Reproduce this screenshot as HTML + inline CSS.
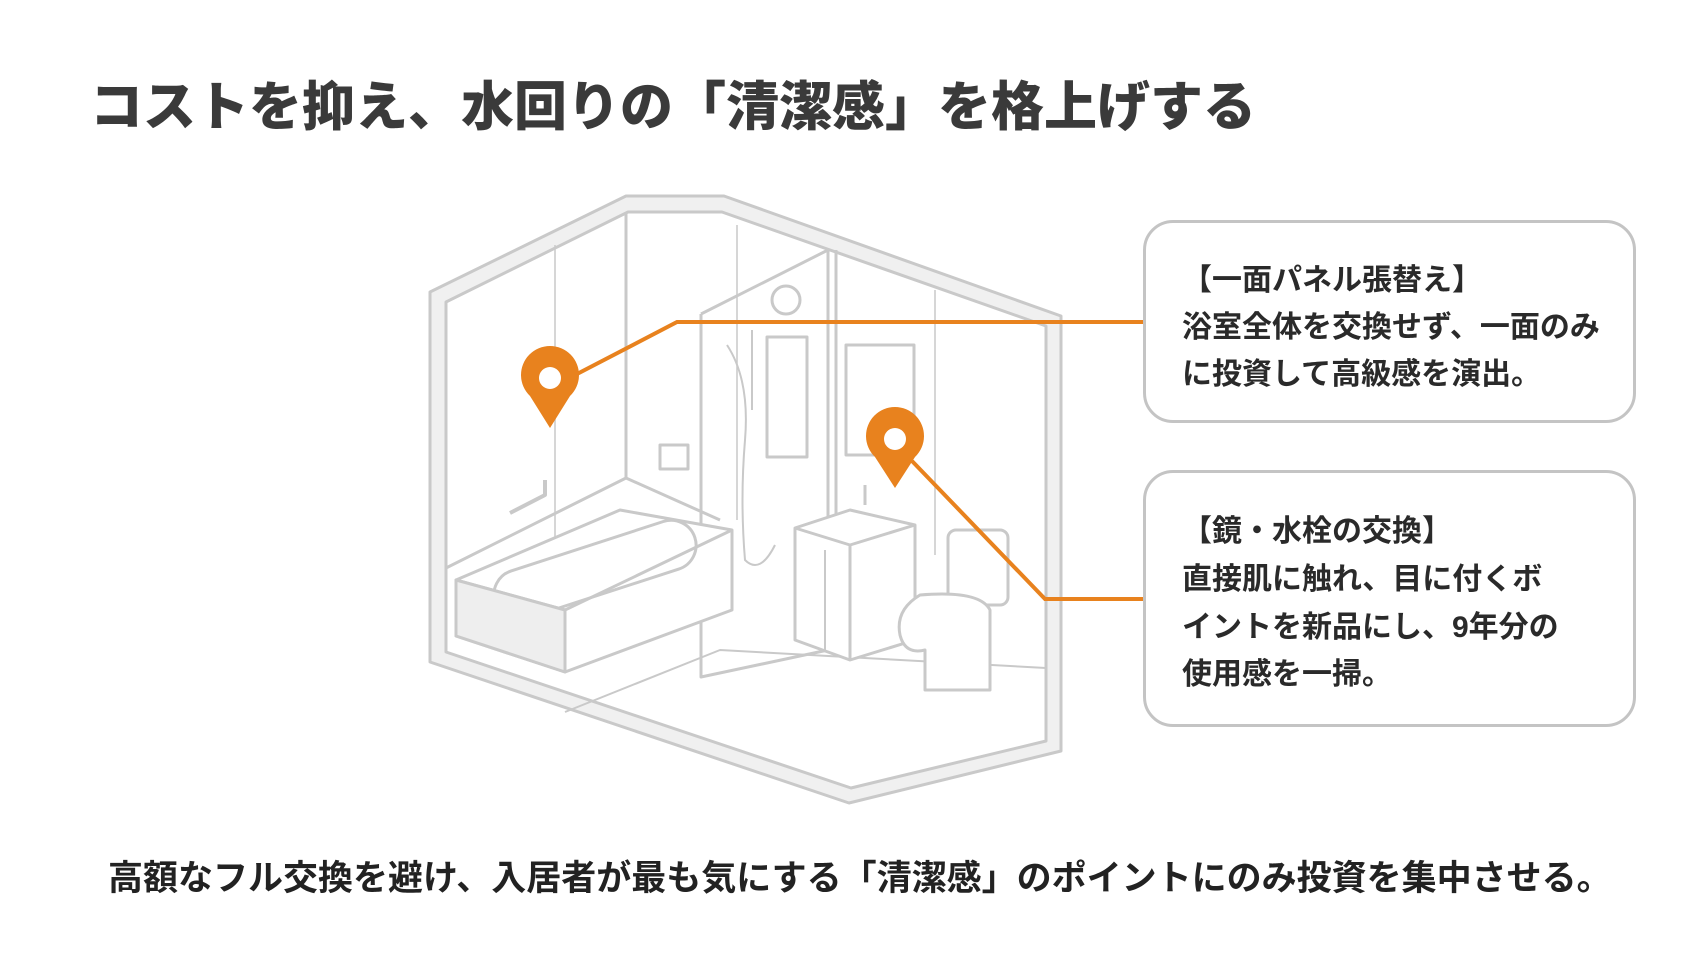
<!DOCTYPE html>
<html><head><meta charset="utf-8"><style>
html,body{margin:0;padding:0;background:#fff;}
body{width:1707px;height:960px;overflow:hidden;position:relative;font-family:"Liberation Sans","Noto Sans CJK JP",sans-serif;}
.t{position:absolute;left:90px;top:76px;font-size:53px;font-weight:900;color:#3a3a3a;white-space:nowrap;line-height:1.2;}
.box{position:absolute;border:3px solid #c4c4c4;border-radius:30px;background:#fff;box-sizing:border-box;}
.box div{position:absolute;left:36px;font-size:30px;font-weight:bold;color:#2a2a2a;white-space:nowrap;line-height:1;}
.b{position:absolute;left:108px;top:850px;font-size:35px;font-weight:bold;color:#222;white-space:nowrap;}
</style></head><body>
<svg width="1707" height="960" style="position:absolute;left:0;top:0">
<g fill="none" stroke="#c9c9c9" stroke-width="3" stroke-linejoin="round">
<path d="M430,292 L626,196 L724,196 L1061,316 L1061,751 L849,803 L430,662 Z M446,302 L446,652 L851,788 L1046,741 L1046,326 L722,212 L628,212 Z" fill="#f0f0f0" fill-rule="evenodd"/>
<line x1="626" y1="212" x2="626" y2="478"/>
<line x1="555" y1="245" x2="555" y2="560" stroke-width="1.5"/>
<line x1="737" y1="225" x2="737" y2="520" stroke-width="1.5"/>
<line x1="935" y1="290" x2="935" y2="555" stroke-width="1.5"/>
<polyline points="446,568 626,478 720,520"/>
<polyline points="565,712 720,650 1046,668" stroke-width="2"/>
<polyline points="701,314 828,250 828,650" />
<polyline points="701,314 701,677 828,650" />
<line x1="836" y1="250" x2="836" y2="650"/>
<polygon points="456,580 620,510 732,530 732,610 565,672 456,636" fill="#fff"/>
<polyline points="456,580 565,610 732,530"/>
<line x1="565" y1="610" x2="565" y2="672"/>
<rect x="490" y="545" width="210" height="50" rx="25" transform="rotate(-18 595 570)"/>
<polygon points="456,580 565,610 565,672 456,636" fill="#eee"/>
<polyline points="510,513 545,495 545,480" stroke-width="4"/>
<rect x="660" y="445" width="28" height="24"/>
<circle cx="786" cy="300" r="14"/>
<line x1="752" y1="330" x2="752" y2="410" stroke-width="2"/>
<path d="M727,345 Q750,380 745,440 Q740,500 745,560 Q760,575 775,545" stroke-width="2"/>
<rect x="767" y="337" width="40" height="120"/>
<rect x="846" y="345" width="68" height="110"/>
<polygon points="795,528 850,510 915,525 915,640 850,660 795,640" fill="#fff"/>
<polyline points="795,528 850,545 915,525"/>
<line x1="850" y1="545" x2="850" y2="660"/>
<line x1="825" y1="550" x2="825" y2="650" stroke-width="2"/>
<line x1="865" y1="505" x2="865" y2="485" stroke-width="3"/>
<rect x="948" y="530" width="60" height="75" rx="8" fill="#fff"/>
<path d="M920,595 Q895,610 900,635 Q905,655 925,650 L925,690 L990,690 L990,610 Q980,590 920,595Z" fill="#fff"/>
</g>
<g stroke="#e8821e" stroke-width="4" fill="none">
<polyline points="577,374 677,322 1145,322"/>
<polyline points="912,461 1045,599 1145,599"/>
</g>
<g fill="#e8821e">
<path d="M550,428 L530,396 A29,29 0 1 1 570,396 Z"/>
<path d="M895,488 L875,457 A29,29 0 1 1 915,457 Z"/>
</g>
<circle cx="550" cy="378" r="11" fill="#fff"/>
<circle cx="895" cy="439" r="11" fill="#fff"/>
</svg>
<div class="t">コストを抑え、水回りの「清潔感」を格上げする</div>
<div class="box" style="left:1143px;top:220px;width:493px;height:203px;">
<div style="top:43px">【一面パネル張替え】</div>
<div style="top:90px">浴室全体を交換せず、一面のみ</div>
<div style="top:137px">に投資して高級感を演出。</div>
</div>
<div class="box" style="left:1143px;top:470px;width:493px;height:257px;">
<div style="top:44px">【鏡・水栓の交換】</div>
<div style="top:92px">直接肌に触れ、目に付くボ</div>
<div style="top:140px">イントを新品にし、9年分の</div>
<div style="top:187px">使用感を一掃。</div>
</div>
<div class="b">高額なフル交換を避け、入居者が最も気にする「清潔感」のポイントにのみ投資を集中させる。</div>
</body></html>
